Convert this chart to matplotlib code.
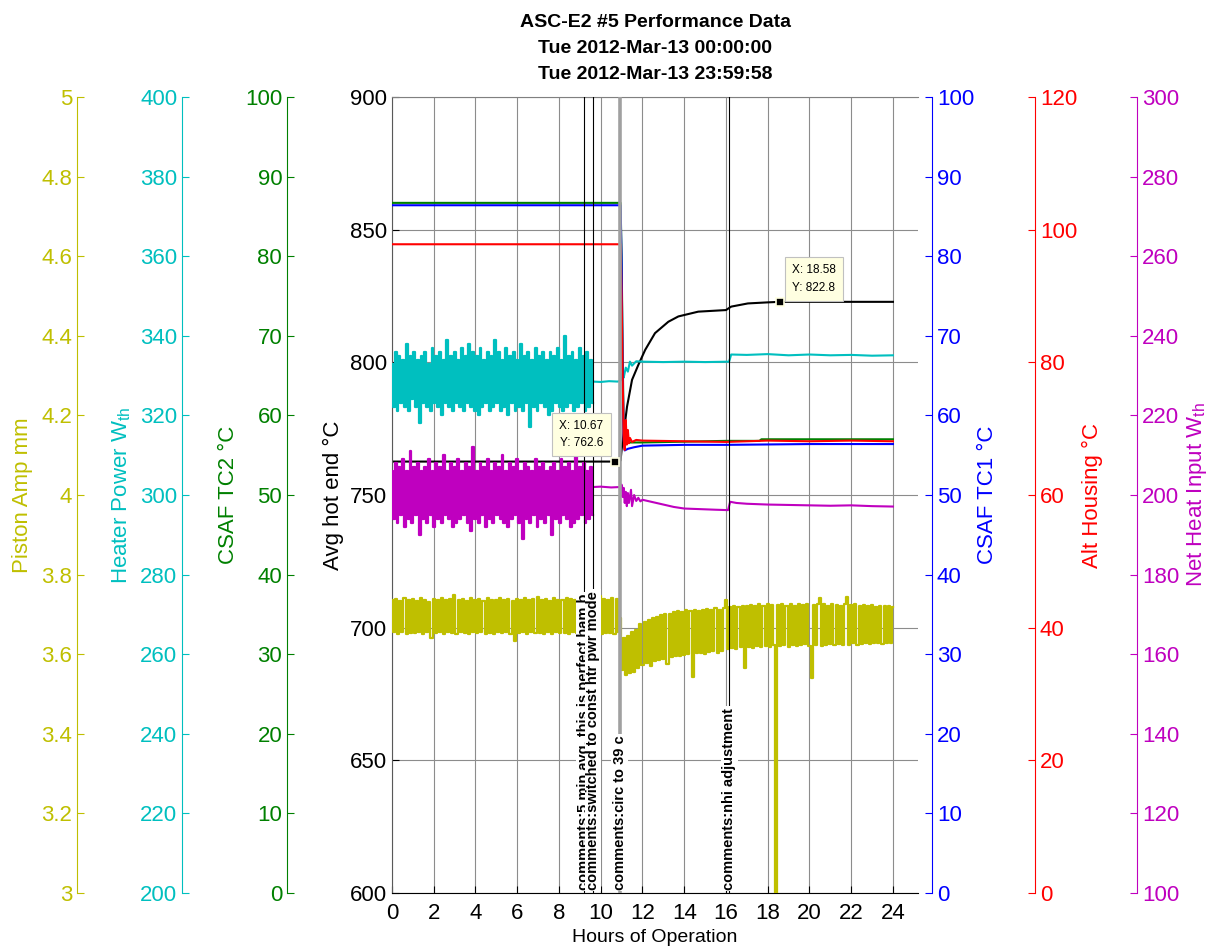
import numpy as np
import matplotlib.pyplot as plt
from matplotlib.ticker import FormatStrFormatter

plt.rcParams["font.family"] = ["Liberation Sans", "DejaVu Sans"]
plt.rcParams["mathtext.default"] = "regular"

# ---- data (x = hours of operation) ----
# Avg hot end (deg C)
hot_t = [0, 10.67, 10.95, 11.0, 11.1, 11.26, 11.5, 11.8, 12.13, 12.6, 13.24, 13.72,
         14.67, 16.0, 16.25, 17.05, 18.0, 18.58, 24.0]
hot_c = [762.6, 762.6, 763.0, 767.0, 773.3, 783.3, 793.4, 799.0, 804.7, 811.0, 815.3, 817.3,
         819.1, 819.7, 821.0, 822.2, 822.6, 822.8, 822.8]

# CSAF TC2 (green) / CSAF TC1 (blue) / Alt housing (red)
tc2_t = [0, 10.95, 11.0, 11.05, 11.1, 11.15, 11.3, 12.0, 14.0, 16.0, 17.6, 17.7, 20.0, 24.0]
tc2_c = [86.7, 86.7, 80.0, 68.0, 58.0, 56.3, 56.6, 56.6, 56.7, 56.8, 56.8, 57.0, 57.0, 57.0]
tc1_t = [0, 10.95, 11.0, 11.05, 11.1, 11.15, 11.3, 11.6, 12.0, 14.0, 16.0, 20.0, 24.0]
tc1_c = [86.4, 86.4, 79.0, 66.0, 57.0, 55.6, 55.8, 56.0, 56.2, 56.3, 56.3, 56.4, 56.4]
alt_t = [0, 10.95, 11.0, 11.05, 11.1, 11.15, 11.2, 11.25, 11.3, 11.35, 11.4, 11.5, 11.7,
         12.0, 14.0, 16.0, 18.0, 20.0, 22.0, 24.0]
alt_c = [97.8, 97.8, 90.0, 78.0, 68.5, 66.8, 71.3, 67.6, 69.8, 67.8, 68.6, 68.0, 68.3,
         68.2, 68.1, 68.0, 68.2, 68.1, 68.2, 68.1]

# Heater power (W_th): noisy part 0 - 9.62 h, then logged points
heater_noisy = [333, 322, 336, 321, 335, 323, 334, 322, 338, 321, 335, 324, 336, 322, 334, 318,
                335, 323, 336, 322, 333, 321, 337, 323, 335, 322, 336, 320, 334, 323, 339, 322,
                335, 321, 336, 323, 334, 322, 337, 321, 335, 323, 338, 322, 336, 321, 335, 320,
                337, 322, 334, 323, 336, 321, 335, 322, 339, 323, 336, 321, 334, 322, 337, 320,
                335, 323, 336, 321, 334, 322, 338, 321, 335, 323, 336, 317, 334, 322, 337, 321,
                335, 323, 336, 322, 334, 320, 336, 321, 335, 323, 337, 322, 334, 321, 340, 322,
                335, 323, 336, 321, 334, 322, 337, 323, 335, 321, 336, 322, 334, 323]
heater_late_t = [9.62, 10.0, 10.4, 10.8, 10.9, 11.0, 11.05, 11.1, 11.2, 11.3, 11.4, 11.5, 11.7,
                 12.0, 13.0, 14.0, 15.0, 16.15, 16.25, 17.0, 18.0, 19.0, 20.0, 21.0, 22.0, 23.0, 24.0]
heater_late_w = [328.5, 328.4, 328.6, 328.5, 328.6, 329.0, 330.5, 329.5, 332.0, 331.0, 333.5, 332.5,
                 333.6, 333.5, 333.4, 333.5, 333.4, 333.5, 335.3, 335.2, 335.4, 335.1, 335.3,
                 335.1, 335.2, 335.0, 335.1]

# Net heat input (W_th)
net_noisy = [206, 194, 208, 193, 207, 195, 209, 192, 206, 194, 211, 193, 207, 195, 208, 190,
             206, 194, 207, 193, 209, 195, 206, 192, 208, 194, 207, 193, 210, 195, 206, 194,
             208, 192, 207, 193, 209, 194, 206, 195, 208, 193, 207, 191, 212, 194, 206, 193,
             208, 195, 207, 192, 209, 194, 206, 193, 208, 195, 207, 194, 210, 193, 206, 192,
             208, 194, 207, 195, 209, 193, 206, 189, 208, 194, 207, 193, 206, 195, 209, 192,
             207, 194, 208, 193, 206, 195, 207, 190, 208, 194, 206, 193, 209, 195, 207, 194,
             208, 192, 206, 193, 211, 194, 207, 195, 208, 193, 206, 194, 207, 195]
net_late_t = [9.62, 10.0, 10.5, 10.9, 10.95, 11.0, 11.05, 11.1, 11.15, 11.2, 11.25, 11.3, 11.35,
              11.45, 11.5, 11.6, 11.7, 11.8, 11.9, 12.0, 12.5, 13.0, 13.5, 14.0, 14.5, 15.0, 15.5,
              16.1, 16.2, 16.5, 17.0, 18.0, 19.0, 20.0, 21.0, 22.0, 23.0, 24.0]
net_late_w = [202.0, 202.1, 201.9, 202.0, 201.5, 202.6, 199.5, 201.8, 198.0, 200.8, 197.2, 200.5,
              198.0, 201.3, 197.2, 200.0, 198.5, 199.3, 198.4, 198.8, 198.2, 197.6, 197.0, 196.6,
              196.5, 196.4, 196.3, 196.2, 198.3, 198.0, 197.8, 197.6, 197.5, 197.4, 197.3, 197.4,
              197.2, 197.1]

# Piston amplitude (mm): before and after the circulator change
piston_early = [3.735, 3.655, 3.738, 3.652, 3.733, 3.657, 3.741, 3.650, 3.736, 3.654, 3.739, 3.653,
                3.734, 3.656, 3.742, 3.651, 3.737, 3.655, 3.732, 3.640, 3.738, 3.654, 3.735, 3.656,
                3.740, 3.652, 3.736, 3.655, 3.739, 3.653, 3.748, 3.651, 3.735, 3.656, 3.738, 3.654,
                3.733, 3.652, 3.741, 3.655, 3.736, 3.653, 3.739, 3.657, 3.734, 3.650, 3.740, 3.654,
                3.737, 3.652, 3.735, 3.656, 3.742, 3.653, 3.736, 3.655, 3.738, 3.651, 3.734, 3.632,
                3.739, 3.654, 3.736, 3.656, 3.741, 3.652, 3.735, 3.655, 3.738, 3.653, 3.744, 3.654,
                3.736, 3.652, 3.739, 3.655, 3.733, 3.651, 3.740, 3.656, 3.737, 3.653, 3.735, 3.654,
                3.742, 3.652, 3.738, 3.655, 3.736, 3.653, 3.750, 3.651, 3.739, 3.656, 3.734, 3.652,
                3.741, 3.654, 3.737, 3.655, 3.746, 3.652, 3.738, 3.653, 3.736, 3.654, 3.740, 3.652,
                3.739, 3.655]
piston_late = [3.690, 3.560, 3.640, 3.548, 3.645, 3.552, 3.655, 3.555, 3.662, 3.565, 3.675, 3.572,
               3.680, 3.578, 3.686, 3.570, 3.690, 3.582, 3.693, 3.586, 3.698, 3.588, 3.700, 3.575,
               3.702, 3.592, 3.706, 3.595, 3.708, 3.596, 3.705, 3.598, 3.710, 3.600, 3.708, 3.543,
               3.711, 3.602, 3.709, 3.604, 3.712, 3.600, 3.713, 3.606, 3.710, 3.607, 3.715, 3.604,
               3.712, 3.608, 3.716, 3.736, 3.612, 3.718, 3.615, 3.720, 3.612, 3.719, 3.617, 3.722,
               3.565, 3.720, 3.618, 3.724, 3.616, 3.722, 3.620, 3.725, 3.617, 3.721, 3.621, 3.726,
               3.618, 3.723, 3.622, 2.900, 3.724, 3.620, 3.727, 3.623, 3.722, 3.619, 3.725, 3.624,
               3.721, 3.620, 3.726, 3.622, 3.723, 3.625, 3.727, 3.621, 3.540, 3.724, 3.623, 3.726,
               3.740, 3.620, 3.725, 3.624, 3.722, 3.626, 3.727, 3.622, 3.724, 3.625, 3.721, 3.623,
               3.726, 3.744, 3.624, 3.723, 3.627, 3.725, 3.622, 3.721, 3.626, 3.724, 3.628, 3.720,
               3.625, 3.723, 3.627, 3.719, 3.629, 3.722, 3.626, 3.720, 3.628, 3.721, 3.627, 3.719]

# event comments
comment_t = [9.2, 9.63, 10.9, 16.15]
comment_txt = ["comments:5 min avg, this is perfect ham b",
               "comments:switched to const htr pwr mode",
               "comments:circ to 39 c",
               "comments:nhi adjustment"]

# data tips
tip_x = [10.67, 18.58]
tip_y = [762.6, 822.8]

# sample times of the evenly logged noisy stretches
heater_noisy_t = np.linspace(0, 9.62, len(heater_noisy))
net_noisy_t = np.linspace(0, 9.62, len(net_noisy))
piston_t = np.concatenate([np.linspace(0, 10.86, len(piston_early)),
                           np.linspace(10.9, 24.0, len(piston_late))])
piston_mm = np.concatenate([piston_early, piston_late])

YEL = "#BFBF00"
CYA = "#00BFBF"
GRN = "#008000"
BLU = "#0000FF"
RED = "#FF0000"
MAG = "#BF00BF"
FS = 16

fig = plt.figure(figsize=(12.11, 9.5), dpi=100)
ax = fig.add_axes([392 / 1211, 57 / 950, 526 / 1211, 796 / 950])

ax.plot(hot_t, hot_c, color="black", lw=1.5)
ax.set_xlim(0, 25.2)
ax.set_ylim(600, 900)
ax.set_xticks(range(0, 25, 2))
ax.set_yticks(range(600, 901, 50))
ax.grid(True, color="0.55", lw=0.8)
ax.tick_params(direction="in", length=5, labelsize=FS)
ax.tick_params(axis="x", pad=7)
ax.spines["right"].set_visible(False)
ax.spines["top"].set_color("0.5")
ax.spines["left"].set_color("0.35")
ax.set_xlabel("Hours of Operation", fontsize=14, labelpad=4)
ax.set_ylabel("Avg hot end °C", fontsize=FS)
ax.yaxis.label.set_va("center")
ax.yaxis.set_label_coords(-0.112, 0.5)
ax.set_title("ASC-E2 #5 Performance Data\nTue 2012-Mar-13 00:00:00\nTue 2012-Mar-13 23:59:58",
             fontsize=14, fontweight="bold", linespacing=1.7, pad=13)


def extra_axis(side, pos, color, lo, hi, step, label, lab_x):
    a = ax.twinx()
    for s in a.spines.values():
        s.set_visible(False)
    a.spines[side].set_visible(True)
    a.spines[side].set_position(("axes", pos))
    a.spines[side].set_color(color)
    a.yaxis.set_ticks_position(side)
    a.yaxis.set_label_position(side)
    a.set_ylim(lo, hi)
    a.set_yticks(np.arange(lo, hi + step / 2, step))
    a.yaxis.set_major_formatter(FormatStrFormatter("%g"))
    a.tick_params(axis="y", direction="in", length=5, colors=color, labelsize=FS)
    a.set_ylabel(label, color=color, fontsize=FS)
    a.yaxis.label.set_va("center")
    a.yaxis.set_label_coords(lab_x, 0.5)
    return a


ax_pist = extra_axis("left", -0.5989, YEL, 3, 5, 0.2, "Piston Amp mm", -0.703)
ax_heat = extra_axis("left", -0.3992, CYA, 200, 400, 20, "Heater Power W$_{th}$", -0.513)
ax_tc2 = extra_axis("left", -0.1996, GRN, 0, 100, 10, "CSAF TC2 °C", -0.310)
ax_tc1 = extra_axis("right", 1.0266, BLU, 0, 100, 10, "CSAF TC1 °C", 1.133)
ax_alt = extra_axis("right", 1.2224, RED, 0, 120, 20, "Alt Housing °C", 1.331)
ax_net = extra_axis("right", 1.4163, MAG, 100, 300, 20, "Net Heat Input W$_{th}$", 1.530)

# noisy signals drawn as steps so the dense band fills in like the logged trace
ax_pist.plot(piston_t, piston_mm, color=YEL, lw=1.6, drawstyle="steps-mid")
ax_heat.plot(heater_noisy_t, heater_noisy, color=CYA, lw=1.6, drawstyle="steps-mid")
ax_heat.plot(heater_late_t, heater_late_w, color=CYA, lw=1.5)
ax_net.plot(net_noisy_t, net_noisy, color=MAG, lw=1.6, drawstyle="steps-mid")
ax_net.plot(net_late_t, net_late_w, color=MAG, lw=1.5)
ax_tc1.plot(tc1_t, tc1_c, color=BLU, lw=1.5)
ax_tc2.plot(tc2_t, tc2_c, color=GRN, lw=1.5)
ax_alt.plot(alt_t, alt_c, color=RED, lw=1.5)

# overlay for comments and data tips (same scale as the main axis)
top = ax.twinx()
top.set_ylim(600, 900)
top.axis("off")
for t, txt in zip(comment_t, comment_txt):
    if "circ" in txt:
        top.axvline(t, color="#A0A0A0", lw=2.6)
    else:
        top.axvline(t, color="black", lw=0.8)
    top.text(t, 0.004, txt, transform=top.get_xaxis_transform(), rotation=90,
             ha="center", va="bottom", fontsize=10.5, fontweight="bold",
             bbox=dict(boxstyle="square,pad=0.1", fc="white", ec="none"))

top.plot(tip_x, tip_y, ls="none", marker="s", ms=6, mfc="black", mec="#FFFFE1", mew=1.2)
top.annotate(f"X: {tip_x[0]}\nY: {tip_y[0]}", (tip_x[0], tip_y[0]), xytext=(-8, 9),
             textcoords="offset points", ha="right", va="bottom", fontsize=8.5, linespacing=1.6,
             bbox=dict(boxstyle="square,pad=0.6", fc="#FFFFE1", ec="#C0C0C0", lw=0.8))
top.annotate(f"X: {tip_x[1]}\nY: {tip_y[1]}", (tip_x[1], tip_y[1]), xytext=(9, 6),
             textcoords="offset points", ha="left", va="bottom", fontsize=8.5, linespacing=1.6,
             bbox=dict(boxstyle="square,pad=0.6", fc="#FFFFE1", ec="#C0C0C0", lw=0.8))

fig.savefig("out.png", dpi=100)
